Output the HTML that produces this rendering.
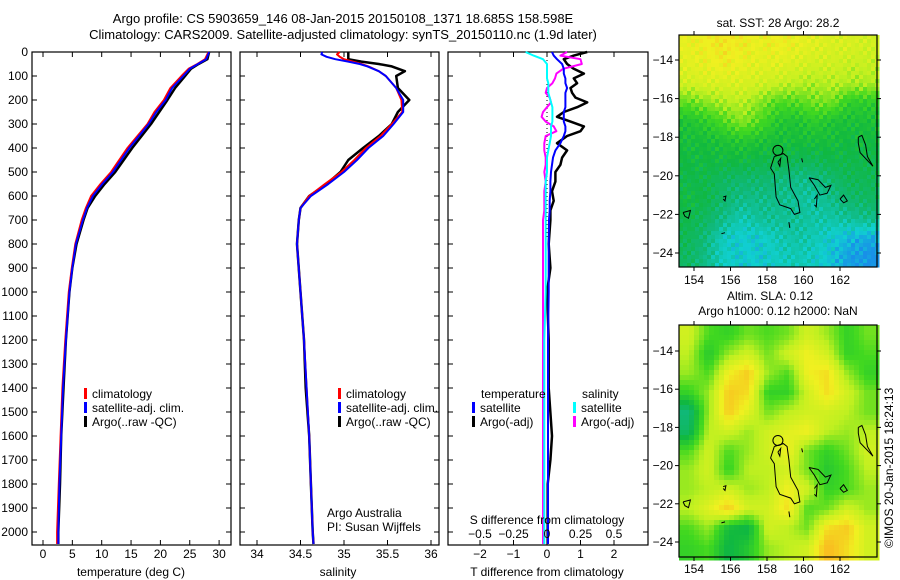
<!DOCTYPE html>
<html><head><meta charset="utf-8">
<style>
html,body{margin:0;padding:0;background:#fff;}
svg{display:block;font-family:"Liberation Sans",sans-serif;}
text{font-size:12px;fill:#000;}
</style></head>
<body>
<svg id="fig" width="900" height="580" viewBox="0 0 900 580" xmlns="http://www.w3.org/2000/svg">
  <text x="343" y="23" text-anchor="middle" style="font-size:13px">Argo profile: CS 5903659_146 08-Jan-2015 20150108_1371 18.685S 158.598E</text>
  <text x="343" y="39" text-anchor="middle" style="font-size:13px">Climatology: CARS2009. Satellite-adjusted climatology: synTS_20150110.nc (1.9d later)</text>
  <g id="p1"></g>
  <g id="p2"></g>
  <g id="p3"></g>
  <g id="m1"></g>
  <g id="m2"></g>
  <text x="778" y="27" text-anchor="middle">sat. SST: 28 Argo: 28.2</text>
  <text x="770" y="300" text-anchor="middle">Altim. SLA: 0.12</text>
  <text x="778" y="315" text-anchor="middle">Argo h1000: 0.12 h2000: NaN</text>
  <text x="0" y="0" transform="translate(893,548) rotate(-90)">©IMOS 20-Jan-2015 18:24:13</text>
  <text x="327" y="517">Argo Australia</text>
  <text x="327" y="531">PI: Susan Wijffels</text>
</svg>
<script>
// ---- profile data (depth m, values) ----
const tDepth   = [0,30,50,70,100,150,200,250,300,400,500,550,600,650,700,800,900,1000,1200,1400,1600,1800,2000,2050];
const tClim    = [28.2,27.6,26.3,24.8,23.6,21.7,20.6,19.0,17.8,14.4,11.6,9.8,8.2,7.3,6.6,5.5,4.9,4.4,3.8,3.3,3.0,2.7,2.4,2.4];
const tSat     = [28.3,27.8,26.4,25.0,23.9,22.0,20.9,19.3,18.0,14.7,11.9,10.1,8.5,7.5,6.8,5.6,5.0,4.5,3.9,3.4,3.1,2.8,2.6,2.6];
const tArgo    = [28.3,28.0,26.5,25.2,24.2,22.5,21.2,19.8,18.4,15.2,12.3,10.5,8.9,7.6,6.9,5.7,5.0,4.5,3.9,3.5,3.1,2.9,2.6,2.6];
const sDepth   = [0,10,20,30,40,50,60,80,100,150,200,250,300,350,400,450,500,550,600,650,700,800,1000,1200,1400,1600,1800,2000,2050];
const sClim    = [34.95,34.92,34.95,35.0,35.1,35.2,35.28,35.4,35.48,35.6,35.66,35.67,35.55,35.42,35.25,35.12,34.97,34.78,34.6,34.5,34.48,34.46,34.5,34.54,34.57,34.6,34.62,34.64,34.65];
const sSat     = [34.75,34.74,34.8,34.9,35.05,35.18,35.27,35.4,35.48,35.6,35.68,35.68,35.57,35.45,35.28,35.15,35.0,34.82,34.62,34.5,34.48,34.46,34.5,34.54,34.57,34.6,34.62,34.64,34.65];
const sArgo    = [35.05,35.05,35.05,35.05,35.2,35.4,35.55,35.7,35.6,35.62,35.75,35.62,35.55,35.4,35.22,35.05,34.96,34.8,34.6,34.5,34.48,34.46,34.5,34.54,34.56,34.6,34.62,34.64,34.65];
// ---- differences ----
const dDepth   = [0,15,30,50,70,90,110,130,150,170,190,210,230,250,270,290,310,330,350,380,410,440,470,500,540,580,620,660,700,800,900,1000,1200,1400,1600,1700,1800,2050];
const dTsat    = [0.15,0.2,0.3,0.45,0.5,0.5,0.55,0.55,0.6,0.55,0.55,0.55,0.55,0.5,0.5,0.5,0.55,0.55,0.5,0.4,0.25,0.18,0.15,0.12,0.1,0.1,0.08,0.08,0.06,0.05,0.05,0.05,0.03,0.03,0.03,0.03,0.03,0.03];
const dTargo   = [1.2,0.8,0.5,0.6,0.8,1.1,0.8,0.9,0.7,0.75,0.85,1.2,0.9,0.5,0.3,0.7,1.1,1.0,0.6,0.3,0.6,0.45,0.4,0.25,0.25,0.15,0.2,0.1,0.1,0.05,0.1,0.0,0.05,0.05,0.15,0.1,0.02,0.02];
const dSsat    = [-0.16,-0.1,-0.03,0.0,0.0,0.0,0.0,0.01,0.01,0.01,0.02,0.03,0.04,0.04,0.04,0.04,0.03,0.03,0.03,0.02,0.01,0.0,0.0,0.0,-0.01,-0.01,-0.01,-0.01,-0.01,-0.01,-0.01,-0.01,-0.02,-0.02,-0.02,-0.02,-0.02,-0.02];
const dSargo   = [0.15,0.1,0.25,0.26,0.12,0.07,0.06,0.04,0.0,-0.01,0.02,0.03,0.0,-0.03,-0.04,-0.01,0.05,0.07,-0.01,-0.02,-0.02,-0.01,-0.01,-0.02,-0.01,-0.02,-0.02,-0.02,-0.03,-0.03,-0.03,-0.03,-0.03,-0.03,-0.03,-0.03,-0.03,-0.03];
// ---- axis ticks ----
const depthTicks = [0,100,200,300,400,500,600,700,800,900,1000,1100,1200,1300,1400,1500,1600,1700,1800,1900,2000];
const tTicks = [0,5,10,15,20,25,30];
const sTicks = [34,34.5,35,35.5,36];
const sTickLabels = ['34','34.5','35','35.5','36'];
const dtTicks = [-2,-1,0,1,2];
const dsTicks = [-0.5,-0.25,0,0.25,0.5];
const dsTickLabels = ['\u22120.5','\u22120.25','0','0.25','0.5'];
const lonTicks = [154,156,158,160,162];
const latTicks = [-14,-16,-18,-20,-22,-24];
// ---- map grids ----
const sstGrid = [
[0.78,0.8,0.82,0.8,0.78,0.8,0.78,0.76,0.74,0.74,0.72],
[0.76,0.78,0.8,0.78,0.76,0.76,0.74,0.72,0.72,0.7,0.7],
[0.72,0.74,0.74,0.74,0.72,0.7,0.68,0.66,0.68,0.66,0.66],
[0.58,0.62,0.66,0.68,0.62,0.56,0.56,0.6,0.6,0.5,0.5],
[0.46,0.5,0.56,0.62,0.56,0.48,0.46,0.5,0.46,0.45,0.45],
[0.44,0.44,0.46,0.48,0.46,0.44,0.44,0.44,0.44,0.42,0.42],
[0.42,0.42,0.42,0.42,0.4,0.4,0.38,0.38,0.4,0.4,0.4],
[0.4,0.4,0.36,0.34,0.34,0.32,0.3,0.3,0.34,0.38,0.38],
[0.42,0.4,0.34,0.3,0.3,0.3,0.28,0.26,0.3,0.34,0.36],
[0.4,0.36,0.3,0.24,0.28,0.28,0.28,0.26,0.26,0.28,0.3],
[0.38,0.32,0.22,0.2,0.2,0.24,0.26,0.24,0.2,0.16,0.14],
[0.36,0.3,0.22,0.2,0.2,0.22,0.24,0.22,0.18,0.12,0.1]];
const slaGrid = [
[0.6,0.4,0.35,0.45,0.4,0.45,0.6,0.5,0.35,0.45],
[0.55,0.3,0.5,0.6,0.45,0.6,0.7,0.6,0.35,0.4],
[0.5,0.4,0.7,0.8,0.5,0.4,0.7,0.75,0.5,0.35],
[0.35,0.5,0.8,0.75,0.35,0.35,0.6,0.75,0.6,0.45],
[0.1,0.5,0.8,0.65,0.45,0.55,0.6,0.6,0.55,0.45],
[0.15,0.55,0.6,0.5,0.6,0.65,0.7,0.55,0.5,0.55],
[0.4,0.6,0.4,0.5,0.6,0.7,0.45,0.35,0.45,0.6],
[0.5,0.6,0.35,0.55,0.55,0.6,0.45,0.3,0.4,0.55],
[0.5,0.55,0.6,0.5,0.55,0.7,0.6,0.35,0.4,0.5],
[0.55,0.65,0.8,0.6,0.6,0.75,0.4,0.45,0.6,0.5],
[0.4,0.5,0.25,0.2,0.6,0.55,0.45,0.75,0.8,0.6],
[0.35,0.4,0.2,0.3,0.5,0.55,0.6,0.85,0.75,0.6]];
const coasts = [
 [[158.4,-19.0],[158.2,-19.6],[158.4,-19.9],[158.5,-21.1],[158.7,-21.5],[159.3,-21.7],[159.5,-22.0],[159.8,-21.9],[159.7,-21.3],[159.3,-20.6],[159.2,-19.7],[159.1,-19.0],[158.9,-18.85],[158.4,-19.0]],
 [[160.3,-20.1],[160.8,-20.2],[161.2,-20.6],[161.5,-20.5],[161.3,-20.9],[160.9,-21.0],[160.6,-20.5],[160.3,-20.1]],
 [[160.6,-21.2],[160.75,-21.0],[160.7,-21.6],[160.6,-21.5]],
 [[162.0,-21.2],[162.2,-21.0],[162.4,-21.3],[162.2,-21.4],[162.0,-21.2]],
 [[163.0,-18.0],[163.2,-17.9],[163.4,-18.4],[163.5,-19.0],[163.8,-19.5],[163.6,-19.3],[163.1,-18.8],[163.0,-18.3],[163.0,-18.0]],
 [[153.4,-21.9],[153.8,-21.8],[153.7,-22.2],[153.5,-22.1],[153.4,-21.9]],
 [[155.6,-21.1],[155.75,-21.05],[155.7,-21.3],[155.6,-21.2]],
 [[158.6,-19.3],[158.75,-19.1],[158.7,-19.5],[158.6,-19.3]],
 [[159.9,-19.1],[159.95,-19.3]],
 [[159.2,-22.4],[159.25,-22.7]],
 [[155.5,-23.0],[155.7,-22.95]]];
const argoPos = [158.598,-18.685];

const NS='http://www.w3.org/2000/svg';
function mk(parent,tag,attrs,txt){const e=document.createElementNS(NS,tag);for(const k in attrs)e.setAttribute(k,attrs[k]);if(txt!==undefined)e.textContent=txt;parent.appendChild(e);return e;}
const Y0=52, YPM=0.24;
const yD = d => Y0 + d*YPM;
function frame(g,x0,x1,name){
  const r=mk(g,'rect',{x:x0,y:52,width:x1-x0,height:493,fill:'none',stroke:'#000','stroke-width':1.2});
  
  
}
function line(g,xs,ds,xf,color,w,name){
  const pts=xs.map((v,i)=>xf(v).toFixed(1)+','+yD(ds[i]).toFixed(1)).join(' ');
  const p=mk(g,'polyline',{points:pts,fill:'none',stroke:color,'stroke-width':w,'stroke-linejoin':'round'});
  
  
}
function depthAxis(g,x0,x1,labels){
  depthTicks.forEach(d=>{
    mk(g,'line',{x1:x0,x2:x0+5,y1:yD(d),y2:yD(d),stroke:'#000'});
    mk(g,'line',{x1:x1,x2:x1-5,y1:yD(d),y2:yD(d),stroke:'#000'});
    if(labels){const t=mk(g,'text',{x:x0-4,y:yD(d)+4,'text-anchor':'end'},String(d));
      
      }
  });
}
function xAxis(g,ticks,labels,xf,ly){
  ticks.forEach((v,i)=>{
    const x=xf(v);
    mk(g,'line',{x1:x,x2:x,y1:545,y2:540,stroke:'#000'});
    mk(g,'line',{x1:x,x2:x,y1:52,y2:57,stroke:'#000'});
    const t=mk(g,'text',{x:x,y:ly,'text-anchor':'middle'},labels[i]);
    
    
  });
}
function legend(g,x,y,items){
  items.forEach((it,i)=>{
    mk(g,'rect',{x:x,y:y+i*14-10,width:3,height:11,fill:it[0]});
    const t=mk(g,'text',{x:x+8,y:y+i*14},it[1]);
    
    
  });
}
// Panel 1
const p1=document.getElementById('p1');
const xT=v=>43+v*5.87;
frame(p1,32,231,'temperature-frame');
depthAxis(p1,32,231,true);
xAxis(p1,tTicks,tTicks.map(String),xT,558);
line(p1,tArgo,tDepth,xT,'#000',2.5,'argo-temperature-line');
line(p1,tClim,tDepth,xT,'#f00',2,'climatology-temperature-line');
line(p1,tSat,tDepth,xT,'#00f',2,'satellite-temperature-line');
mk(p1,'text',{x:131,y:576,'text-anchor':'middle'},'temperature (deg C)');
legend(p1,84,398,[['#f00','climatology'],['#00f','satellite-adj. clim.'],['#000','Argo(..raw -QC)']]);
// Panel 2
const p2=document.getElementById('p2');
const xS=v=>257+(v-34)*87;
frame(p2,240,439,'salinity-frame');
depthAxis(p2,240,439,false);
xAxis(p2,sTicks,sTickLabels,xS,558);
line(p2,sArgo,sDepth,xS,'#000',2.5,'argo-salinity-line');
line(p2,sClim,sDepth,xS,'#f00',2,'climatology-salinity-line');
line(p2,sSat,sDepth,xS,'#00f',2,'satellite-salinity-line');
mk(p2,'text',{x:338,y:576,'text-anchor':'middle'},'salinity');
legend(p2,338,398,[['#f00','climatology'],['#00f','satellite-adj. clim.'],['#000','Argo(..raw -QC)']]);
// Panel 3
const p3=document.getElementById('p3');
const xDT=v=>547+v*33.5, xDS=v=>547+v*134;
frame(p3,448,648,'difference-frame');
depthAxis(p3,448,648,false);
xAxis(p3,dtTicks,dtTicks.map(v=>v<0?'\u2212'+(-v):String(v)),xDT,558);
mk(p3,'line',{x1:547,x2:547,y1:52,y2:240,stroke:'#000','stroke-dasharray':'1,3'});
line(p3,dTargo,dDepth,xDT,'#000',2.5,'argo-temperature-diff-line');
line(p3,dSargo,dDepth,xDS,'#f0f',2,'argo-salinity-diff-line');
line(p3,dTsat,dDepth,xDT,'#00f',2,'satellite-temperature-diff-line');
line(p3,dSsat,dDepth,xDS,'#0ff',2,'satellite-salinity-diff-line');
dsTicks.forEach((v,i)=>{const t=mk(p3,'text',{x:xDS(v),y:538,'text-anchor':'middle'},dsTickLabels[i]);
  
  });
mk(p3,'text',{x:547,y:524,'text-anchor':'middle'},'S difference from climatology');
mk(p3,'text',{x:547,y:576,'text-anchor':'middle'},'T difference from climatology');
mk(p3,'text',{x:481,y:398},'temperature');
mk(p3,'text',{x:582,y:398},'salinity');
legend(p3,472,412,[['#00f','satellite'],['#000','Argo(-adj)']]);
legend(p3,573,412,[['#0ff','satellite'],['#f0f','Argo(-adj)']]);
// Maps
const stops=[[0.1,[24,144,232]],[0.2,[16,208,208]],[0.32,[16,184,120]],[0.42,[16,184,64]],[0.55,[64,216,32]],[0.68,[192,240,32]],[0.8,[240,240,32]],[0.9,[248,192,32]]];
function cmap(v){if(v<=stops[0][0])return stops[0][1];for(let i=1;i<stops.length;i++){if(v<=stops[i][0]){const a=stops[i-1],b=stops[i],f=(v-a[0])/(b[0]-a[0]);return a[1].map((c,k)=>Math.round(c+(b[1][k]-c)*f));}}return stops[stops.length-1][1];}
function sample(grid,u,v){const R=grid.length,C=grid[0].length;const gx=Math.min(Math.max(u*C-0.5,0),C-1),gy=Math.min(Math.max(v*R-0.5,0),R-1);
  const x0=Math.floor(gx),y0=Math.floor(gy),x1=Math.min(x0+1,C-1),y1=Math.min(y0+1,R-1),fx=gx-x0,fy=gy-y0;
  return grid[y0][x0]*(1-fx)*(1-fy)+grid[y0][x1]*fx*(1-fy)+grid[y1][x0]*(1-fx)*fy+grid[y1][x1]*fx*fy;}
function drawMap(id,grid,top,bottom,latY0,latScale,cell,remap,lblY,tex){
  const g=document.getElementById(id);const L=679,Rr=877;
  for(let y=top;y<bottom;y+=cell)for(let x=L;x<Rr;x+=cell){
    let v=sample(grid,(x+cell/2-L)/(Rr-L),(y+cell/2-top)/(bottom-top));
    if(tex){v+=0.05*Math.sin(x*1.7+y*2.3)*Math.cos(x*0.9-y*1.3);} 
    v=remap(v);
    const c=cmap(v);
    mk(g,'rect',{x:x,y:y,width:cell+0.5,height:cell+0.5,fill:'rgb('+c.join(',')+')'});
  }
  const lx=lon=>694+(lon-154)*18.25, ly=lat=>latY0+(-14-lat)*latScale;
  coasts.forEach(cs=>{const p=mk(g,'polyline',{points:cs.map(q=>lx(q[0]).toFixed(1)+','+ly(q[1]).toFixed(1)).join(' '),fill:'none',stroke:'#000','stroke-width':1});
    
    });
  const c=mk(g,'circle',{cx:lx(argoPos[0]),cy:ly(argoPos[1]),r:5,fill:'none',stroke:'#000'});
  
  
  mk(g,'rect',{x:L,y:top,width:Rr-L,height:bottom-top,fill:'none',stroke:'#000','stroke-width':1.2});
  lonTicks.forEach(lon=>{const x=lx(lon);mk(g,'line',{x1:x,x2:x,y1:top,y2:top-4,stroke:'#000'});mk(g,'line',{x1:x,x2:x,y1:bottom,y2:bottom+4,stroke:'#000'});
    const t=mk(g,'text',{x:x,y:lblY,'text-anchor':'middle'},String(lon));
    
    });
  latTicks.forEach(lat=>{const y=ly(lat);mk(g,'line',{x1:L,x2:L-4,y1:y,y2:y,stroke:'#000'});mk(g,'line',{x1:Rr,x2:Rr+4,y1:y,y2:y,stroke:'#000'});
    const t=mk(g,'text',{x:L-6,y:y+4,'text-anchor':'end'},'\u2212'+(-lat));
    
    });
}
drawMap('m1',sstGrid,35,267,60,19.3,4,v=>v,284,true);
drawMap('m2',slaGrid,325,557,351,19.1,5,v=>0.24+0.8*v,573,false);
</script>
</body></html>
